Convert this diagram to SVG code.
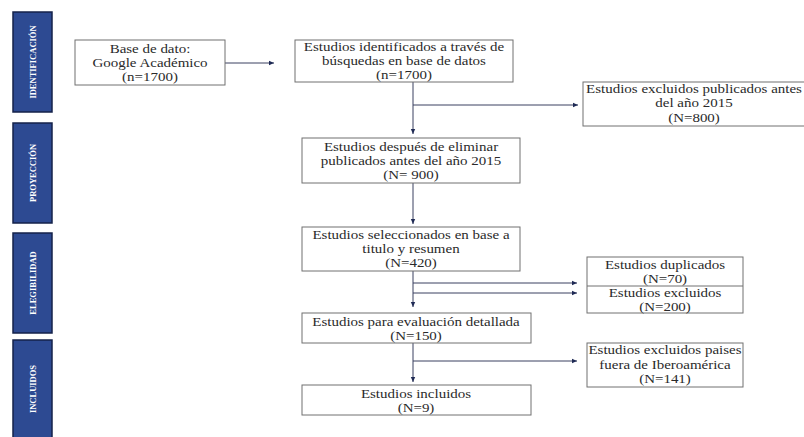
<svg xmlns="http://www.w3.org/2000/svg" width="804" height="437" viewBox="0 0 804 437">
<defs>
<marker id="ah" markerWidth="6" markerHeight="6" refX="5" refY="3" orient="auto" markerUnits="userSpaceOnUse">
<path d="M0,0.8 L5,3 L0,5.2 Z" fill="#1f2a55"/>
</marker>
<style>
.bar{fill:#2d4a92;stroke:#15224a;stroke-width:1.5}
.bt{font-family:"Liberation Serif","Times New Roman",serif;font-size:8.5px;font-weight:bold;fill:#ffffff;text-anchor:middle}
.box{fill:#ffffff;stroke:#707070;stroke-width:1}
.t{font-family:"Liberation Serif","Times New Roman",serif;font-size:13.5px;fill:#2a2a2a;text-anchor:middle}
.c{fill:none;stroke:#3a4060;stroke-width:1}
</style>
</defs>
<rect width="804" height="437" fill="#ffffff"/>
<g id="phase-identificacion"><rect class="bar" x="13" y="12" width="39" height="100"/><text class="bt" transform="translate(35.5,62) rotate(-90)">IDENTIFICACIÓN</text></g>
<g id="phase-proyeccion"><rect class="bar" x="13" y="123" width="39" height="100"/><text class="bt" transform="translate(35.5,173) rotate(-90)">PROYECCIÓN</text></g>
<g id="phase-elegibilidad"><rect class="bar" x="13" y="233" width="39" height="100"/><text class="bt" transform="translate(35.5,283) rotate(-90)">ELEGIBILIDAD</text></g>
<g id="phase-incluidos"><rect class="bar" x="13" y="340" width="39" height="100"/><text class="bt" transform="translate(35.5,389) rotate(-90)">INCLUIDOS</text></g>

<g id="connectors">
<line class="c" x1="225" y1="63" x2="274" y2="63" marker-end="url(#ah)"/>
<line class="c" x1="413" y1="82" x2="413" y2="134" marker-end="url(#ah)"/>
<line class="c" x1="413" y1="105" x2="578" y2="105" marker-end="url(#ah)"/>
<line class="c" x1="413" y1="183" x2="413" y2="224" marker-end="url(#ah)"/>
<line class="c" x1="413" y1="271" x2="413" y2="307" marker-end="url(#ah)"/>
<line class="c" x1="413" y1="283" x2="577" y2="283" marker-end="url(#ah)"/>
<line class="c" x1="413" y1="293" x2="577" y2="293" marker-end="url(#ah)"/>
<line class="c" x1="413" y1="343" x2="413" y2="382" marker-end="url(#ah)"/>
<line class="c" x1="413" y1="361" x2="577" y2="361" marker-end="url(#ah)"/>
</g>

<g id="n-base"><rect class="box" x="75" y="40" width="150" height="45"/>
<g transform="translate(150,0) scale(1.11,1)">
<text class="t" x="0" y="53">Base de dato:</text>
<text class="t" x="0" y="67">Google Académico</text>
<text class="t" x="0" y="81">(n=1700)</text></g></g>

<g id="n-identificados"><rect class="box" x="295" y="40" width="218" height="42"/>
<g transform="translate(404,0) scale(1.11,1)">
<text class="t" x="0" y="51">Estudios identificados a través de</text>
<text class="t" x="0" y="65">búsquedas en base de datos</text>
<text class="t" x="0" y="79">(n=1700)</text></g></g>

<g id="n-excl2015"><rect class="box" x="583" y="82" width="234" height="44"/>
<g transform="translate(694,0) scale(1.11,1)">
<text class="t" x="0" y="93">Estudios excluidos publicados antes</text>
<text class="t" x="0" y="107">del año 2015</text>
<text class="t" x="0" y="122">(N=800)</text></g></g>

<g id="n-despues"><rect class="box" x="302" y="138" width="218" height="45"/>
<g transform="translate(411,0) scale(1.11,1)">
<text class="t" x="0" y="151">Estudios después de eliminar</text>
<text class="t" x="0" y="165">publicados antes del año 2015</text>
<text class="t" x="0" y="179">(N= 900)</text></g></g>

<g id="n-seleccionados"><rect class="box" x="302" y="227" width="218" height="44"/>
<g transform="translate(411,0) scale(1.11,1)">
<text class="t" x="0" y="239">Estudios seleccionados en base a</text>
<text class="t" x="0" y="253">titulo y resumen</text>
<text class="t" x="0" y="267">(N=420)</text></g></g>

<g id="n-dup-excl"><rect class="box" x="587" y="257" width="156" height="56"/>
<line x1="587" y1="286" x2="743" y2="286" stroke="#707070" stroke-width="1"/>
<g transform="translate(665,0) scale(1.11,1)">
<text class="t" x="0" y="269">Estudios duplicados</text>
<text class="t" x="0" y="283">(N=70)</text>
<text class="t" x="0" y="297">Estudios excluidos</text>
<text class="t" x="0" y="311">(N=200)</text></g></g>

<g id="n-evaluacion"><rect class="box" x="302" y="313" width="229" height="30"/>
<g transform="translate(416,0) scale(1.11,1)">
<text class="t" x="0" y="326">Estudios para evaluación detallada</text>
<text class="t" x="0" y="340">(N=150)</text></g></g>

<g id="n-paises"><rect class="box" x="587" y="343" width="156" height="44"/>
<g transform="translate(665,0) scale(1.11,1)">
<text class="t" x="0" y="354">Estudios excluidos paises</text>
<text class="t" x="0" y="369">fuera de Iberoamérica</text>
<text class="t" x="0" y="383">(N=141)</text></g></g>

<g id="n-incluidos"><rect class="box" x="302" y="385" width="229" height="30"/>
<g transform="translate(416,0) scale(1.11,1)">
<text class="t" x="0" y="398">Estudios incluidos</text>
<text class="t" x="0" y="412">(N=9)</text></g></g>
</svg>
